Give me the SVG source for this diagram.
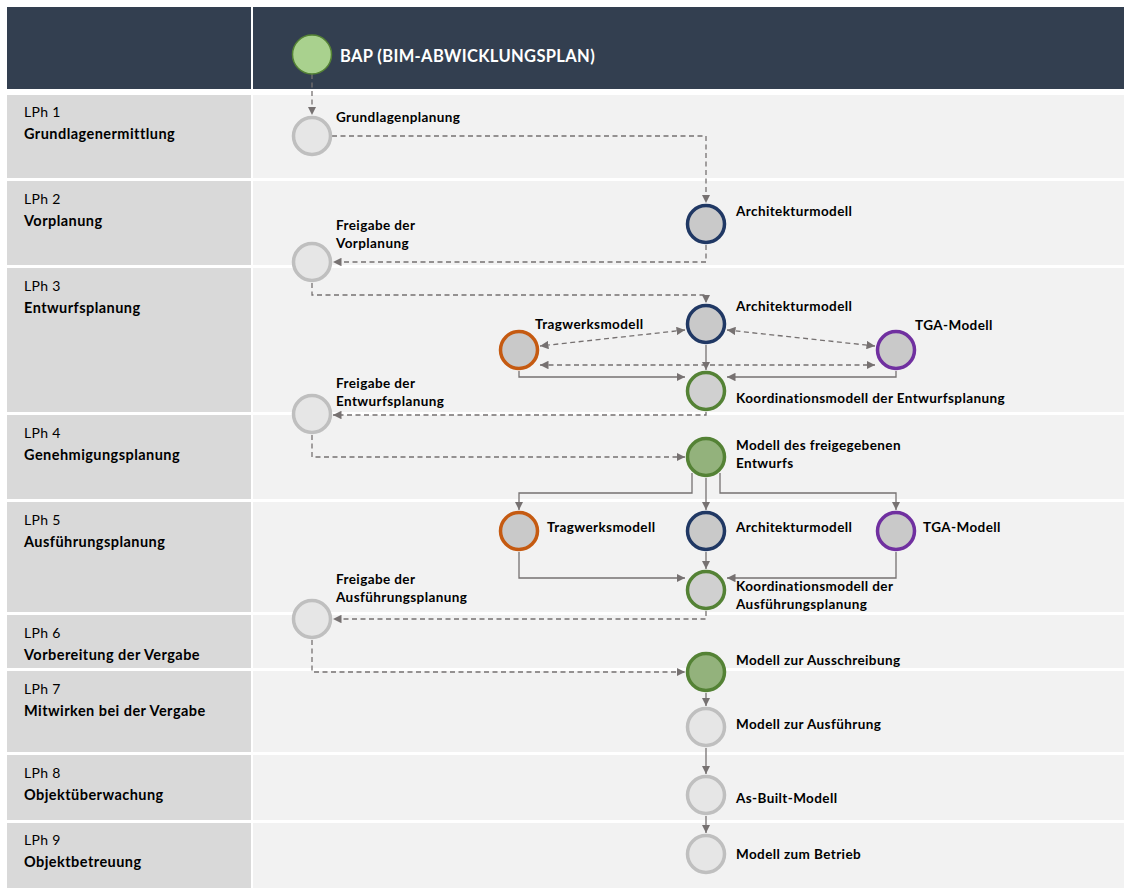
<svg xmlns="http://www.w3.org/2000/svg" width="1124" height="888" viewBox="0 0 1124 888">
<defs>
<style>
.hdr{fill:#333F50}
.lc{fill:#D9D9D9}
.rc{fill:#F2F2F2}
.ph{font-family:Lato,"Liberation Sans",sans-serif;font-size:14px;letter-spacing:0.3px;fill:#000}
.phb{font-family:Lato,"Liberation Sans",sans-serif;font-size:14.5px;letter-spacing:0.45px;font-weight:bold;fill:#000}
.lbl{font-family:Lato,"Liberation Sans",sans-serif;font-size:13.5px;letter-spacing:0.4px;font-weight:bold;fill:#000}
.title{font-family:Lato,"Liberation Sans",sans-serif;font-size:16.5px;letter-spacing:0.35px;font-weight:bold;fill:#FFFFFF}
.n{stroke-width:3.5}
.gray{fill:#E6E6E6;stroke:#BFBFBF}
.arch{fill:#C9C9C9;stroke:#203864}
.trag{fill:#C9C9C9;stroke:#C55A11}
.tga{fill:#C9C9C9;stroke:#7030A0}
.koord{fill:#D0D0D0;stroke:#548235}
.grn{fill:#93B27C;stroke:#548235}
.c{fill:none;stroke:#767171;stroke-width:1.3}
.d{stroke-dasharray:5,3.5}
</style>
<marker id="ah" viewBox="0 0 10 10" refX="10" refY="5" markerWidth="8.5" markerHeight="8.5" markerUnits="userSpaceOnUse" orient="auto-start-reverse">
<path d="M0,0 L10,5 L0,10 Z" fill="#767171"/>
</marker>
</defs>

<g id="background">
<rect x="0" y="0" width="1124" height="888" fill="#FFFFFF"/>
<rect class="hdr" x="7" y="7" width="244" height="82"/>
<rect class="hdr" x="253" y="7" width="871" height="82"/>
<rect class="lc" x="7" y="95" width="244" height="83"/>
<rect class="rc" x="253" y="95" width="871" height="83"/>
<rect class="lc" x="7" y="181" width="244" height="84"/>
<rect class="rc" x="253" y="181" width="871" height="84"/>
<rect class="lc" x="7" y="268" width="244" height="144"/>
<rect class="rc" x="253" y="268" width="871" height="144"/>
<rect class="lc" x="7" y="415" width="244" height="84"/>
<rect class="rc" x="253" y="415" width="871" height="84"/>
<rect class="lc" x="7" y="502" width="244" height="110"/>
<rect class="rc" x="253" y="502" width="871" height="110"/>
<rect class="lc" x="7" y="615" width="244" height="53"/>
<rect class="rc" x="253" y="615" width="871" height="53"/>
<rect class="lc" x="7" y="671" width="244" height="81"/>
<rect class="rc" x="253" y="671" width="871" height="81"/>
<rect class="lc" x="7" y="755" width="244" height="65"/>
<rect class="rc" x="253" y="755" width="871" height="65"/>
<rect class="lc" x="7" y="823" width="244" height="65"/>
<rect class="rc" x="253" y="823" width="871" height="65"/>
</g>

<g id="phases">
<text class="ph" x="24" y="117">LPh 1</text><text class="phb" x="24" y="139">Grundlagenermittlung</text>
<text class="ph" x="24" y="204">LPh 2</text><text class="phb" x="24" y="226">Vorplanung</text>
<text class="ph" x="24" y="291">LPh 3</text><text class="phb" x="24" y="313">Entwurfsplanung</text>
<text class="ph" x="24" y="438">LPh 4</text><text class="phb" x="24" y="460">Genehmigungsplanung</text>
<text class="ph" x="24" y="525">LPh 5</text><text class="phb" x="24" y="547">Ausführungsplanung</text>
<text class="ph" x="24" y="638">LPh 6</text><text class="phb" x="24" y="660">Vorbereitung  der Vergabe</text>
<text class="ph" x="24" y="694">LPh 7</text><text class="phb" x="24" y="716">Mitwirken bei der Vergabe</text>
<text class="ph" x="24" y="778">LPh 8</text><text class="phb" x="24" y="800">Objektüberwachung</text>
<text class="ph" x="24" y="845">LPh 9</text><text class="phb" x="24" y="867">Objektbetreuung</text>
</g>

<g id="connectors">
<path class="c d" d="M312,74 V115" marker-end="url(#ah)"/>
<path class="c d" d="M332,136 H706 V203" marker-end="url(#ah)"/>
<path class="c d" d="M706,245 V262 H333" marker-end="url(#ah)"/>
<path class="c d" d="M312,283 V295 H706 V303" marker-end="url(#ah)"/>
<path class="c d" d="M685,330 L540,346" marker-start="url(#ah)" marker-end="url(#ah)"/>
<path class="c d" d="M727,330 L875,346" marker-start="url(#ah)" marker-end="url(#ah)"/>
<path class="c d" d="M540,365 H875" marker-start="url(#ah)" marker-end="url(#ah)"/>
<path class="c" d="M519,371 V377 H685" marker-end="url(#ah)"/>
<path class="c" d="M896,371 V377 H727" marker-end="url(#ah)"/>
<path class="c" d="M706,345 V370" marker-end="url(#ah)"/>
<path class="c d" d="M706,412 V415 H333" marker-end="url(#ah)"/>
<path class="c d" d="M312,435 V457 H685" marker-end="url(#ah)"/>
<path class="c" d="M692,473 V493 H519 V510" marker-end="url(#ah)"/>
<path class="c" d="M706,478 V510" marker-end="url(#ah)"/>
<path class="c" d="M720,473 V493 H896 V510" marker-end="url(#ah)"/>
<path class="c" d="M519,552 V578 H685" marker-end="url(#ah)"/>
<path class="c" d="M896,552 V578 H727" marker-end="url(#ah)"/>
<path class="c" d="M706,552 V569" marker-end="url(#ah)"/>
<path class="c d" d="M706,611 V619 H333" marker-end="url(#ah)"/>
<path class="c d" d="M312,640 V672 H685" marker-end="url(#ah)"/>
<path class="c" d="M706,693 V706" marker-end="url(#ah)"/>
<path class="c" d="M706,748 V774" marker-end="url(#ah)"/>
<path class="c" d="M706,816 V833" marker-end="url(#ah)"/>
</g>

<g id="bap"><circle cx="312" cy="54.5" r="19.5" fill="#A9D18E" stroke="#548235" stroke-width="1.5"/><text class="title" x="340" y="62">BAP (BIM-ABWICKLUNGSPLAN)</text></g>
<g id="grundlagenplanung"><circle class="n gray" cx="312" cy="136" r="18.5"/><text class="lbl" x="336" y="122">Grundlagenplanung</text></g>
<g id="arch2"><circle class="n arch" cx="706" cy="224" r="18.5"/><text class="lbl" x="736" y="216">Architekturmodell</text></g>
<g id="freigabe-vorplanung"><circle class="n gray" cx="312" cy="262" r="18.5"/><text class="lbl" x="336" y="230">Freigabe der</text><text class="lbl" x="336" y="248">Vorplanung</text></g>
<g id="arch3"><circle class="n arch" cx="706" cy="324" r="18.5"/><text class="lbl" x="736" y="311">Architekturmodell</text></g>
<g id="trag3"><circle class="n trag" cx="519" cy="350" r="18.5"/><text class="lbl" x="535" y="329">Tragwerksmodell</text></g>
<g id="tga3"><circle class="n tga" cx="896" cy="350" r="18.5"/><text class="lbl" x="915" y="330">TGA-Modell</text></g>
<g id="koord3"><circle class="n koord" cx="706" cy="391" r="18.5"/><text class="lbl" x="736" y="403">Koordinationsmodell der Entwurfsplanung</text></g>
<g id="freigabe-entwurf"><circle class="n gray" cx="312" cy="414" r="18.5"/><text class="lbl" x="336" y="388">Freigabe der</text><text class="lbl" x="336" y="406">Entwurfsplanung</text></g>
<g id="entwurf"><circle class="n grn" cx="706" cy="457" r="18.5"/><text class="lbl" x="736" y="450">Modell des freigegebenen</text><text class="lbl" x="736" y="468">Entwurfs</text></g>
<g id="trag5"><circle class="n trag" cx="519" cy="531" r="18.5"/><text class="lbl" x="547" y="532">Tragwerksmodell</text></g>
<g id="arch5"><circle class="n arch" cx="706" cy="531" r="18.5"/><text class="lbl" x="736" y="532">Architekturmodell</text></g>
<g id="tga5"><circle class="n tga" cx="896" cy="531" r="18.5"/><text class="lbl" x="923" y="532">TGA-Modell</text></g>
<g id="koord5"><circle class="n koord" cx="706" cy="590" r="18.5"/><text class="lbl" x="736" y="591">Koordinationsmodell der</text><text class="lbl" x="736" y="609">Ausführungsplanung</text></g>
<g id="freigabe-ausf"><circle class="n gray" cx="312" cy="619" r="18.5"/><text class="lbl" x="336" y="584">Freigabe der</text><text class="lbl" x="336" y="602">Ausführungsplanung</text></g>
<g id="ausschreibung"><circle class="n grn" cx="706" cy="672" r="18.5"/><text class="lbl" x="736" y="665">Modell zur Ausschreibung</text></g>
<g id="ausfuehrung"><circle class="n gray" cx="706" cy="727" r="18.5"/><text class="lbl" x="736" y="729">Modell zur Ausführung</text></g>
<g id="asbuilt"><circle class="n gray" cx="706" cy="795" r="18.5"/><text class="lbl" x="736" y="803">As-Built-Modell</text></g>
<g id="betrieb"><circle class="n gray" cx="706" cy="854" r="18.5"/><text class="lbl" x="736" y="859">Modell zum Betrieb</text></g>
</svg>
